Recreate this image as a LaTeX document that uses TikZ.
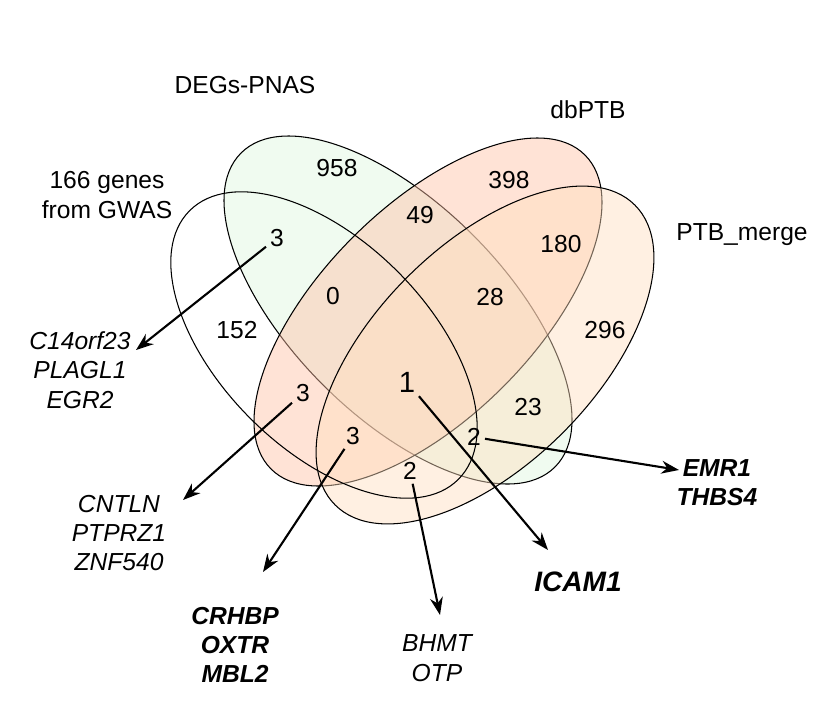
\documentclass[tikz,border=0pt]{standalone}
\usepackage{fontspec}
\setmainfont{Liberation Sans}
\usetikzlibrary{arrows.meta}
\begin{document}
\begin{tikzpicture}[x=0.03cm,y=-0.03cm,
  lbl/.style={font=\fontsize{21}{25}\selectfont},
  gl/.style={font=\fontsize{21}{25}\selectfont\itshape,align=center},
  gb/.style={font=\fontsize{21}{25}\selectfont\bfseries\itshape,align=center},
  ell/.style={draw=black,line width=0.9pt},
  arr/.style={-{Stealth[length=15pt,width=11pt]},line width=1.8pt}]
\useasboundingbox (0,0) rectangle (838,719);
\fill[white] (0,0) rectangle (838,719);
\draw[ell,fill=green!40!white!80!gray!30,fill opacity=0.45] (398,310) ellipse [x radius=222,y radius=106,rotate=-45];
\draw[ell,fill=orange!60!red!35,fill opacity=0.45] (428,312) ellipse [x radius=222,y radius=106,rotate=45];
\draw[ell,fill=orange!25,fill opacity=0.45] (485,355) ellipse [x radius=212,y radius=110,rotate=45];
\draw[ell] (324,345) ellipse [x radius=190,y radius=104,rotate=-45];
\node[lbl] (tDEG) at (245,85) {DEGs-PNAS};
\node[lbl] (tdb) at (588,110) {dbPTB};
\node[lbl] (tPTB) at (742,235) {PTB\_merge};
\node[lbl,align=center] (tGW) at (107,195) {166 genes\\from GWAS};
\node[lbl] (n958) at (337,168) {958};
\node[lbl] (n398) at (509,180) {398};
\node[lbl] (n49) at (420,215) {49};
\node[lbl] (n180) at (561,244) {180};
\node[lbl] (n3a) at (277,238) {3};
\node[lbl] (n0) at (333,296) {0};
\node[lbl] (n28) at (490,297) {28};
\node[lbl] (n296) at (605,330) {296};
\node[lbl] (n152) at (237,330) {152};
\node[lbl,font=\fontsize{25}{28}\selectfont] (n1) at (407,382) {1};
\node[lbl] (n3b) at (303,393) {3};
\node[lbl] (n23) at (528,407) {23};
\node[lbl] (n3c) at (353,436) {3};
\node[lbl] (n2a) at (474,437) {2};
\node[lbl] (n2b) at (410,471) {2};
\node[gl] (g1) at (80,370) {C14orf23\\PLAGL1\\EGR2};
\node[gl] (g2) at (119,533) {CNTLN\\PTPRZ1\\ZNF540};
\node[gb] (g3) at (235,645) {CRHBP\\OXTR\\MBL2};
\node[gl] (g4) at (437,658) {BHMT\\OTP};
\node[gb,font=\fontsize{24}{28}\selectfont\bfseries\itshape] (g5) at (578,582) {ICAM1};
\node[gb] (g6) at (717,483) {EMR1\\THBS4};
\draw[arr] (n3a) -- (136,350);
\draw[arr] (n3b) -- (183,500);
\draw[arr] (n3c) -- (263,572);
\draw[arr] (n2b) -- (440,615);
\draw[arr] (n1) -- (548,550);
\draw[arr] (n2a) -- (679,470);
\end{tikzpicture}
\end{document}
